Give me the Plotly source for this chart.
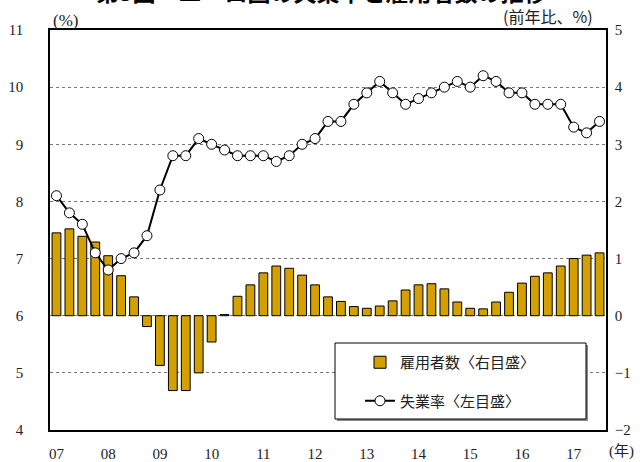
import plotly.graph_objects as go

years = ["07", "08", "09", "10", "11", "12", "13", "14", "15", "16", "17"]
# Quarterly data 2007Q1 - 2017Q3
unemployment = [8.1, 7.8, 7.6, 7.1,
                6.8, 7.0, 7.1, 7.4,
                8.2, 8.8, 8.8, 9.1,
                9.0, 8.9, 8.8, 8.8,
                8.8, 8.7, 8.8, 9.0,
                9.1, 9.4, 9.4, 9.7,
                9.9, 10.1, 9.9, 9.7,
                9.8, 9.9, 10.0, 10.1,
                10.0, 10.2, 10.1, 9.9,
                9.9, 9.7, 9.7, 9.7,
                9.3, 9.2, 9.4]
employment = [1.45, 1.52, 1.39, 1.29,
              1.05, 0.70, 0.33, -0.19,
              -0.87, -1.31, -1.31, -1.00,
              -0.46, 0.02, 0.34, 0.54,
              0.75, 0.87, 0.83, 0.71,
              0.54, 0.33, 0.25, 0.16,
              0.13, 0.17, 0.26, 0.45,
              0.54, 0.56, 0.47, 0.24,
              0.13, 0.12, 0.24, 0.41,
              0.57, 0.69, 0.75, 0.87,
              1.00, 1.06, 1.10]

n = len(unemployment)
xq = list(range(n))
year_ticks = [4 * i for i in range(len(years))]
year_bounds = [4 * i - 0.5 for i in range(1, len(years))]

serif = "Liberation Serif, Noto Sans CJK JP, serif"
jp = "Noto Sans CJK JP, sans-serif"

fig = go.Figure()
fig.add_trace(go.Bar(
    x=xq, y=employment, name="雇用者数〈右目盛〉",
    marker=dict(color="#D4A000", line=dict(color="black", width=1)),
    width=0.68, yaxis="y", xaxis="x", legendgroup="a",
))
fig.add_trace(go.Scatter(
    x=xq, y=unemployment, name="失業率〈左目盛〉", mode="lines+markers",
    line=dict(color="black", width=2),
    marker=dict(symbol="circle", size=10, color="white",
                line=dict(color="black", width=1)),
    yaxis="y2", xaxis="x", legendgroup="b",
))

rng = [-0.5, n - 0.5]
fig.update_layout(
    width=640, height=462,
    margin=dict(l=50, r=34, t=30, b=32, autoexpand=False),
    paper_bgcolor="white", plot_bgcolor="white",
    font=dict(family=serif, size=15, color="#222"),
    showlegend=True,
    legend=dict(x=(360 - 50) / 556, y=(430 - 346) / 400,
                xanchor="left", yanchor="top",
                bgcolor="rgba(0,0,0,0)", borderwidth=0,
                font=dict(family=jp, size=15, color="#222"),
                tracegroupgap=16, traceorder="grouped"),
    xaxis=dict(range=rng, tickvals=year_ticks, ticktext=years,
               showgrid=False, showline=True, linecolor="black",
               linewidth=1.5, mirror=True, ticks="", zeroline=False,
               automargin=False, ticklabelstandoff=9,
               tickfont=dict(family=serif, size=15)),
    xaxis2=dict(range=rng, overlaying="x", anchor="free", position=0.285,
                tickvals=year_bounds, showticklabels=False, ticks="outside",
                ticklen=5, tickcolor="#333", showline=True,
                linecolor="#444", linewidth=1.2, showgrid=False,
                zeroline=False, automargin=False),
    xaxis3=dict(range=rng, overlaying="x", anchor="free", position=0.285,
                tickvals=year_bounds, showticklabels=False, ticks="inside",
                ticklen=5, tickcolor="#333", showline=False,
                showgrid=False, zeroline=False, automargin=False),
    yaxis=dict(range=[-2, 5], dtick=1, side="right", showgrid=True,
               gridcolor="#777", griddash="dot", gridwidth=1,
               zeroline=False, showline=True, linecolor="black",
               linewidth=1.5, ticks="", ticklabelstandoff=4,
               automargin=False,
               tickfont=dict(family=serif, size=15)),
    yaxis2=dict(range=[4, 11], dtick=1, side="left", overlaying="y",
                showgrid=False, zeroline=False, showline=True,
                linecolor="black", linewidth=1.5, ticks="",
                ticklabelstandoff=22, automargin=False,
                tickfont=dict(family=serif, size=15)),
    shapes=[
        dict(type="rect", xref="paper", yref="paper",
             x0=(337 - 50) / 556, x1=(588 - 50) / 556,
             y0=(430 - 421) / 400, y1=(430 - 345) / 400,
             fillcolor="#888", line=dict(width=0), layer="above"),
        dict(type="rect", xref="paper", yref="paper",
             x0=(335 - 50) / 556, x1=(586 - 50) / 556,
             y0=(430 - 419) / 400, y1=(430 - 343) / 400,
             fillcolor="white", line=dict(color="black", width=1),
             layer="above"),
    ],
    annotations=[
        dict(text="<b>第3図　ユーロ圏の失業率と雇用者数の推移</b>",
             xref="paper", yref="paper", x=(321 - 50) / 556, y=1.0975,
             xanchor="center", yanchor="middle", showarrow=False,
             font=dict(family=jp, size=23, color="black")),
        dict(text="(%)", xref="paper", yref="paper", x=(51 - 50) / 556,
             y=(430 - 20) / 400, xanchor="left", yanchor="middle",
             showarrow=False, font=dict(family=serif, size=17)),
        dict(text="(前年比、%)", xref="paper", yref="paper",
             x=(595 - 50) / 556, y=(430 - 16) / 400, xanchor="right",
             yanchor="middle", showarrow=False,
             font=dict(family=jp, size=16)),
        dict(text="(年)", xref="paper", yref="paper", x=(607 - 50) / 556,
             y=(430 - 451) / 400, xanchor="left", yanchor="middle",
             showarrow=False, font=dict(family=serif, size=15)),
    ],
)

fig.write_html("out.html",
               config={"displayModeBar": False},
               post_script="document.body.style.margin='0';")
